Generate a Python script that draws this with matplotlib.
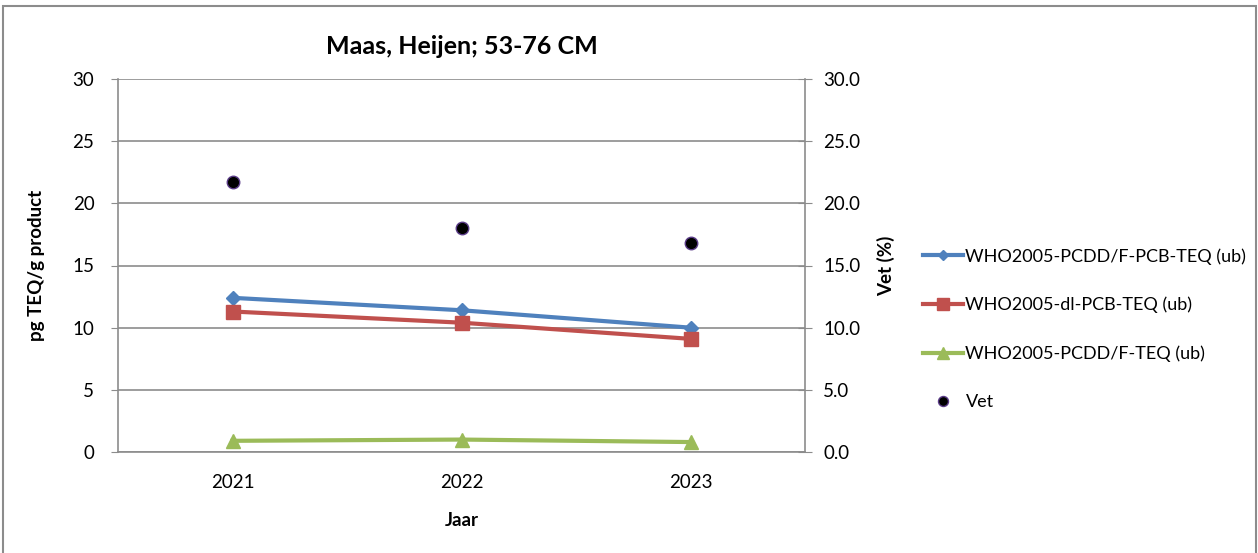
import matplotlib
matplotlib.use("Agg")
import matplotlib.pyplot as plt
from matplotlib.patches import Rectangle
from matplotlib.ticker import FormatStrFormatter, MultipleLocator

plt.rcParams['font.family'] = ['Lato', 'DejaVu Sans']

years = ['2021', '2022', '2023']
teq_total = [12.4, 11.4, 10.0]
teq_dl_pcb = [11.3, 10.4, 9.1]
teq_pcdd_f = [0.9, 1.0, 0.8]
fat_pct = [21.7, 18.0, 16.8]

labels = ['WHO2005-PCDD/F-PCB-TEQ (ub)', 'WHO2005-dl-PCB-TEQ (ub)',
          'WHO2005-PCDD/F-TEQ (ub)', 'Vet']
colors = ['#4F81BD', '#C0504D', '#9BBB59']
grid_c = '#8C8C8C'

W, H = 1258, 553
fig = plt.figure(figsize=(W / 100, H / 100), dpi=100)

# outer chart frame
fig.patches.append(Rectangle((3 / W, -0.05), (1256 - 3) / W, 1 - 6 / H + 0.05,
                             transform=fig.transFigure, fill=False,
                             edgecolor='#8C8C8C', linewidth=1.5))

ax = fig.add_axes([118 / W, 1 - 452 / H, (805 - 118) / W, (452 - 79) / H])
x = [i + 0.5 for i in range(len(years))]

l1, = ax.plot(x, teq_total, color=colors[0], lw=3, marker='D', ms=7, label=labels[0])
l2, = ax.plot(x, teq_dl_pcb, color=colors[1], lw=3, marker='s', ms=10, label=labels[1])
l3, = ax.plot(x, teq_pcdd_f, color=colors[2], lw=3, marker='^', ms=10, label=labels[2])

ax.set_xlim(0, 3)
ax.set_ylim(0, 30)
ax.yaxis.set_major_locator(MultipleLocator(5))
ax.set_xticks(x)
ax.set_xticklabels(years)
ax.tick_params(axis='x', length=0, pad=16, labelsize=13.5)
ax.tick_params(axis='y', length=5, color=grid_c, pad=12, labelsize=13.5)
ax.grid(axis='y', color=grid_c, lw=1.2)
ax.set_axisbelow(True)
for s in ['top', 'right']:
    ax.spines[s].set_visible(False)
for s in ['left', 'bottom']:
    ax.spines[s].set_color(grid_c)
    ax.spines[s].set_linewidth(1.2)

ax.set_ylabel('pg TEQ/g product', fontsize=13.5, fontweight='bold', labelpad=20)
ax.set_xlabel('Jaar', fontsize=13.5, fontweight='bold', labelpad=15)
ax.set_title('Maas, Heijen; 53-76 CM', fontsize=18, fontweight='bold', pad=18)

ax2 = ax.twinx()
l4, = ax2.plot(x, fat_pct, linestyle='none', marker='o', ms=9,
               markerfacecolor='black', markeredgecolor='#5B3C88', mew=1,
               label=labels[3])
ax2.set_ylim(0, 30)
ax2.yaxis.set_major_locator(MultipleLocator(5))
ax2.yaxis.set_major_formatter(FormatStrFormatter('%.1f'))
ax2.tick_params(axis='y', direction='inout', length=10, color=grid_c,
                pad=8, labelsize=13.5)
for s in ['top', 'left', 'bottom']:
    ax2.spines[s].set_visible(False)
ax2.spines['right'].set_color(grid_c)
ax2.spines['right'].set_linewidth(1.2)
ax2.set_ylabel('Vet (%)', fontsize=13.5, fontweight='bold', labelpad=12)

fig.legend(handles=[l1, l2, l3, l4], labels=labels,
           loc='center left', bbox_to_anchor=(914 / W, 1 - 329 / H),
           frameon=False, fontsize=13, labelspacing=1.78,
           handlelength=2.2, handletextpad=0.15, borderpad=0, markerscale=0.8)

fig.savefig('out.png', dpi=100)
